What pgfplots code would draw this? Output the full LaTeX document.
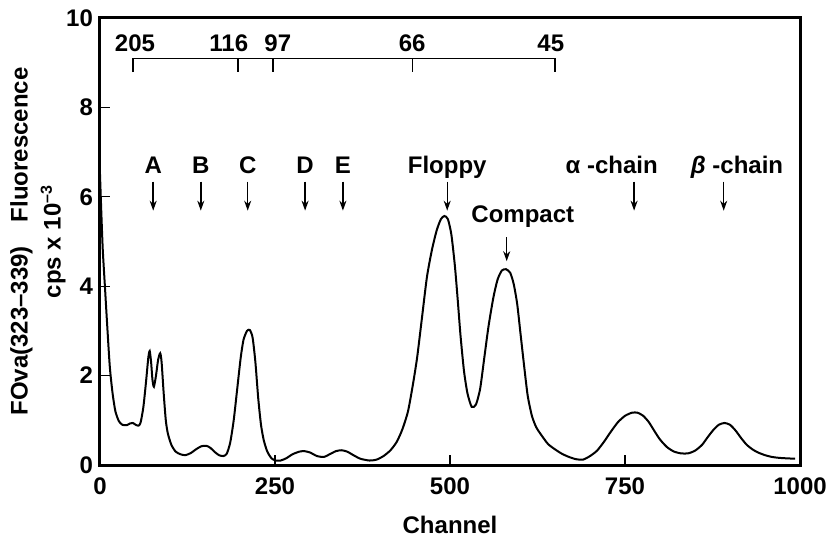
\documentclass[border=0pt]{standalone}
\usepackage{pgfplots}
\pgfplotsset{compat=1.18}
\usepackage{fontspec}
\setmainfont{Liberation Sans}
\usetikzlibrary{arrows.meta}

\newcommand\lab{\fontsize{12}{16.5}\selectfont\bfseries}
\tikzset{pk/.style={line width=0.7pt, -{Stealth[length=5pt,width=3.5pt]}}}

\begin{document}
\begin{tikzpicture}
\begin{axis}[
    scale only axis,
    width=350pt, height=223.5pt,
    xmin=0, xmax=1000, ymin=0, ymax=10,
    xtick={0,250,500,750,1000},
    ytick={0,2,4,6,8,10},
    xtick pos=bottom, ytick pos=left,
    tick align=inside,
    major tick length=5pt,
    tick style={line width=0.6pt, black},
    axis line style={line width=1.5pt},
    /pgf/number format/assume math mode=true,
    /pgf/number format/1000 sep={},
    ticklabel style={font=\lab},
    xticklabel style={yshift=-3pt},
    xlabel={Channel},
    xlabel style={font=\lab, at={(axis description cs:0.5,-0.134)}, anchor=center},
    ylabel={FOva(323--339)\hspace{1em}Fluorescence\\cps x 10\textsuperscript{--3}},
    ylabel style={font=\lab, align=center, at={(axis description cs:-0.0886,0.5)}, anchor=center},
]
\addplot[black, line width=1pt, smooth, tension=0.4] coordinates {
(0,6.5) (2,5.6) (4,4.8) (7,4.0) (10,3.2) (14,2.2) (18,1.6) (22,1.2) (27,0.98)
(32,0.9) (38,0.89) (43,0.93) (47,0.94) (51,0.9) (55,0.88) (58,0.95) (62,1.3)
(66,1.9) (69,2.4) (71,2.55) (73,2.3) (75,1.9) (77,1.75) (80,2.0) (83,2.35)
(86,2.5) (88,2.3) (91,1.6) (94,1.0) (97,0.7) (102,0.45) (108,0.3) (115,0.24)
(122,0.22) (130,0.27) (138,0.36) (145,0.42) (152,0.43) (158,0.38) (164,0.29)
(170,0.22) (176,0.2) (181,0.25) (186,0.5) (191,1.0) (196,1.7) (201,2.4)
(205,2.8) (210,3.0) (214,3.02) (218,2.85) (222,2.3) (226,1.5) (230,0.9)
(234,0.55) (239,0.3) (245,0.15) (251,0.1) (258,0.1) (266,0.15) (275,0.24)
(285,0.3) (292,0.31) (300,0.28) (310,0.2) (320,0.18) (328,0.24) (337,0.31)
(345,0.33) (353,0.3) (362,0.22) (372,0.14) (385,0.1) (395,0.12) (405,0.2)
(415,0.33) (424,0.52) (432,0.8) (440,1.2) (447,1.8) (453,2.4) (460,3.3)
(467,4.2) (474,4.8) (481,5.25) (487,5.5) (492,5.57) (497,5.5) (502,5.15)
(507,4.45) (511,3.7) (515,2.9) (520,2.1) (525,1.6) (531,1.3) (537,1.35)
(543,1.7) (549,2.4) (555,3.1) (562,3.75) (568,4.15) (574,4.35) (580,4.38)
(586,4.3) (591,4.05) (596,3.6) (601,2.9) (606,2.2) (611,1.55) (617,1.1)
(623,0.85) (630,0.68) (640,0.47) (650,0.35) (660,0.25) (670,0.18) (680,0.13)
(690,0.12) (700,0.2) (710,0.32) (720,0.52) (730,0.75) (740,0.96) (750,1.1)
(760,1.17) (768,1.17) (776,1.1) (784,0.96) (792,0.76) (800,0.57) (810,0.4)
(820,0.3) (830,0.26) (840,0.26) (850,0.32) (860,0.45) (868,0.62) (876,0.78)
(884,0.9) (892,0.94) (900,0.9) (908,0.77) (916,0.6) (924,0.45) (932,0.35)
(940,0.28) (950,0.22) (960,0.18) (970,0.16) (980,0.15) (993,0.14)
};

% molecular weight scale
\draw[line width=0.7pt] (axis cs:47,8.79) -- (axis cs:47,9.1) -- (axis cs:650,9.1) -- (axis cs:650,8.79);
\draw[line width=0.7pt] (axis cs:197,9.1) -- (axis cs:197,8.79);
\draw[line width=0.7pt] (axis cs:247,9.1) -- (axis cs:247,8.79);
\draw[line width=0.7pt] (axis cs:446,9.1) -- (axis cs:446,8.79);
\node[font=\lab] at (axis cs:50,9.44) {205};
\node[font=\lab] at (axis cs:184,9.44) {116};
\node[font=\lab] at (axis cs:254,9.44) {97};
\node[font=\lab] at (axis cs:446,9.44) {66};
\node[font=\lab] at (axis cs:644,9.44) {45};

% peak markers
\node[font=\lab, anchor=base] at (axis cs:76,6.52) {A};
\draw[pk] (axis cs:76,6.34) -- (axis cs:76,5.69);
\node[font=\lab, anchor=base] at (axis cs:144,6.52) {B};
\draw[pk] (axis cs:144,6.34) -- (axis cs:144,5.69);
\node[font=\lab, anchor=base] at (axis cs:211,6.52) {C};
\draw[pk] (axis cs:211,6.34) -- (axis cs:211,5.69);
\node[font=\lab, anchor=base] at (axis cs:293,6.52) {D};
\draw[pk] (axis cs:293,6.34) -- (axis cs:293,5.69);
\node[font=\lab, anchor=base] at (axis cs:347,6.52) {E};
\draw[pk] (axis cs:347,6.34) -- (axis cs:347,5.69);
\node[font=\lab, anchor=base] at (axis cs:496,6.52) {Floppy};
\draw[pk] (axis cs:496,6.34) -- (axis cs:496,5.69);
\node[font=\lab, anchor=base] at (axis cs:731,6.52) {α -chain};
\draw[pk] (axis cs:763,6.34) -- (axis cs:763,5.69);
\node[font=\lab, anchor=base] at (axis cs:910,6.52) {{\itshape β} -chain};
\draw[pk] (axis cs:891,6.34) -- (axis cs:891,5.69);
\node[font=\lab, anchor=base] at (axis cs:604,5.42) {Compact};
\draw[pk] (axis cs:581,5.1) -- (axis cs:581,4.56);
\end{axis}
\pgfresetboundingbox
\path ([shift={(-50pt,-37.5pt)}]current axis.south west) rectangle ([shift={(14pt,9pt)}]current axis.north east);
\end{tikzpicture}
\end{document}
